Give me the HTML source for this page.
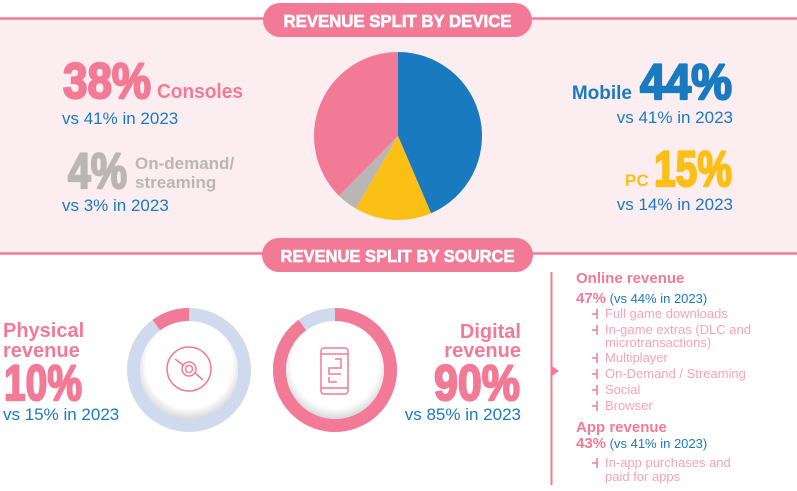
<!DOCTYPE html>
<html><head><meta charset="utf-8"><style>
html,body{margin:0;padding:0;background:#fff}
svg{display:block;font-family:"Liberation Sans",sans-serif}
.b{font-weight:bold}
.big{stroke-width:2.2;stroke-linejoin:round}
</style></head><body>
<svg id="c" width="797" height="491" viewBox="0 0 797 491">
<rect x="0" y="18" width="797" height="236" fill="#fcedf0"/>
<line x1="0" y1="18.5" x2="797" y2="18.5" stroke="#f27a97" stroke-width="2.5"/>
<line x1="0" y1="253.5" x2="797" y2="253.5" stroke="#f27a97" stroke-width="2.5"/>
<rect x="263" y="3" width="269" height="34" rx="17" fill="#f27a97"/>
<text x="397.5" y="27" text-anchor="middle" fill="#fff" stroke="#fff" stroke-width="0.6" class="b" font-size="17.5" textLength="228" lengthAdjust="spacingAndGlyphs">REVENUE SPLIT BY DEVICE</text>
<rect x="262" y="238" width="271" height="34" rx="17" fill="#f27a97"/>
<text x="397.5" y="262" text-anchor="middle" fill="#fff" stroke="#fff" stroke-width="0.6" class="b" font-size="17.5" textLength="234" lengthAdjust="spacingAndGlyphs">REVENUE SPLIT BY SOURCE</text>
<g id="pie"></g>

<text x="63" y="98" fill="#f27a97" stroke="#f27a97" class="b big" font-size="50" textLength="88" lengthAdjust="spacingAndGlyphs">38%</text>
<text x="157" y="98" fill="#f27a97" class="b" font-size="20" textLength="86" lengthAdjust="spacingAndGlyphs">Consoles</text>
<text x="62" y="124" fill="#1a7ac0" font-size="17">vs 41% in 2023</text>
<text x="68" y="188" fill="#bbb6b6" stroke="#bbb6b6" class="b big" font-size="50" textLength="59" lengthAdjust="spacingAndGlyphs">4%</text>
<text x="135" y="169" fill="#bbb6b6" class="b" font-size="17">On-demand/</text>
<text x="135" y="188" fill="#bbb6b6" class="b" font-size="17">streaming</text>
<text x="62" y="211" fill="#1a7ac0" font-size="17">vs 3% in 2023</text>

<text x="632" y="99" text-anchor="end" fill="#1a7ac0" class="b" font-size="19">Mobile</text>
<text x="732" y="99" text-anchor="end" fill="#1a7ac0" stroke="#1a7ac0" class="b big" font-size="50" textLength="92" lengthAdjust="spacingAndGlyphs">44%</text>
<text x="733" y="123" text-anchor="end" fill="#1a7ac0" font-size="17">vs 41% in 2023</text>
<text x="625" y="186" fill="#fbbf16" class="b" font-size="17">PC</text>
<text x="732" y="186" text-anchor="end" fill="#fbbf16" stroke="#fbbf16" class="b big" font-size="50" textLength="78" lengthAdjust="spacingAndGlyphs">15%</text>
<text x="733" y="210" text-anchor="end" fill="#1a7ac0" font-size="17">vs 14% in 2023</text>

<text x="3" y="337" fill="#f27a97" class="b" font-size="20">Physical</text>
<text x="3" y="357" fill="#f27a97" class="b" font-size="20">revenue</text>
<text x="4" y="400" fill="#f27a97" stroke="#f27a97" class="b big" font-size="50" textLength="78" lengthAdjust="spacingAndGlyphs">10%</text>
<text x="3" y="420" fill="#1a7ac0" font-size="17">vs 15% in 2023</text>
<text x="521" y="338" text-anchor="end" fill="#f27a97" class="b" font-size="20">Digital</text>
<text x="521" y="357" text-anchor="end" fill="#f27a97" class="b" font-size="20">revenue</text>
<text x="520" y="400" text-anchor="end" fill="#f27a97" stroke="#f27a97" class="b big" font-size="50" textLength="86" lengthAdjust="spacingAndGlyphs">90%</text>
<text x="521" y="420" text-anchor="end" fill="#1a7ac0" font-size="17">vs 85% in 2023</text>

<defs><radialGradient id="inner" cx="0.5" cy="0.45" r="0.55"><stop offset="0.8" stop-color="#fff"/><stop offset="1" stop-color="#d8d8d8"/></radialGradient></defs>
<g id="donuts"></g>
<g fill="none" stroke="#f27a97" stroke-width="1.5">
<circle cx="189" cy="369" r="22"/><circle cx="189" cy="369" r="7"/><circle cx="189" cy="369" r="3.5"/>
<line x1="175" y1="359" x2="183" y2="365"/><line x1="195" y1="373" x2="203" y2="380"/>
</g>
<g fill="none" stroke="#f27a97" stroke-width="1.5">
<rect x="321" y="348" width="27" height="46" rx="3"/><line x1="321" y1="354" x2="348" y2="354"/><line x1="321" y1="388" x2="348" y2="388"/>
<path d="M335 359h6v9h-12v6h12"/><path d="M329 377v5h8"/>
</g>

<g>
<line x1="551.5" y1="272" x2="551.5" y2="485" stroke="#f27a97" stroke-width="2"/>
<polygon points="552,366 559,371 552,376" fill="#f27a97"/>
<text x="576" y="283" fill="#f27a97" class="b" font-size="15">Online revenue</text>
<text x="576" y="303" fill="#f27a97" class="b" font-size="15">47%<tspan font-weight="normal" font-size="13" fill="#1a7ac0"> (vs 44% in 2023)</tspan></text>
<g fill="#f8a3b6" font-size="13">
<text x="605" y="318">Full game downloads</text>
<text x="605" y="334">In-game extras (DLC and</text>
<text x="605" y="347">microtransactions)</text>
<text x="605" y="362">Multiplayer</text>
<text x="605" y="378">On-Demand / Streaming</text>
<text x="605" y="394">Social</text>
<text x="605" y="410">Browser</text>
<text x="605" y="467">In-app purchases and</text>
<text x="605" y="481">paid for apps</text>
</g>
<g stroke="#f27a97" stroke-width="1.5">
<path d="M597 309v10M592 314h5"/><path d="M597 325v10M592 330h5"/><path d="M597 353v10M592 358h5"/>
<path d="M597 369v10M592 374h5"/><path d="M597 385v10M592 390h5"/><path d="M597 401v10M592 406h5"/><path d="M597 458v10M592 463h5"/>
</g>
<text x="576" y="432" fill="#f27a97" class="b" font-size="15">App revenue</text>
<text x="576" y="448" fill="#f27a97" class="b" font-size="15">43%<tspan font-weight="normal" font-size="13" fill="#1a7ac0"> (vs 41% in 2023)</tspan></text>
</g>
</svg>
<script>
const deviceCategories = ["Mobile", "PC", "On-demand/streaming", "Consoles"];
const deviceShares = [44, 15, 4, 38];
const deviceColors = ["#1a7ac0", "#fbbf16", "#bbb6b6", "#f27a97"];
const sourceCategories = ["Physical", "Digital"];
const sourceShares = [10, 90];

const NS = "http://www.w3.org/2000/svg";
function pt(cx, cy, r, a) { return [cx + r * Math.sin(a), cy - r * Math.cos(a)]; }
function arcPath(cx, cy, r, a0, a1) {
  const p0 = pt(cx, cy, r, a0), p1 = pt(cx, cy, r, a1);
  const large = (a1 - a0) > Math.PI ? 1 : 0;
  return `M${cx},${cy}L${p0[0]},${p0[1]}A${r},${r} 0 ${large} 1 ${p1[0]},${p1[1]}Z`;
}
const pie = document.getElementById("pie");
const total = deviceShares.reduce((a, b) => a + b, 0);
let ang = 0;
deviceShares.forEach((v, i) => {
  const a1 = ang + v / total * 2 * Math.PI;
  const p = document.createElementNS(NS, "path");
  p.setAttribute("d", arcPath(398, 136, 84, ang, a1));
  p.setAttribute("fill", deviceColors[i]);
  
  
  pie.appendChild(p);
  ang = a1;
});

const donuts = document.getElementById("donuts");
function donut(cx, cy, share, clockwise, name) {
  const R = 62, r = 49;
  const bg = document.createElementNS(NS, "circle");
  bg.setAttribute("cx", cx); bg.setAttribute("cy", cy); bg.setAttribute("r", (R + r) / 2);
  bg.setAttribute("fill", "none"); bg.setAttribute("stroke", "#cfdaee"); bg.setAttribute("stroke-width", R - r);
  
  
  donuts.appendChild(bg);
  const frac = share / 100;
  const a0 = clockwise ? 0 : -frac * 2 * Math.PI, a1 = clockwise ? frac * 2 * Math.PI : 0;
  const o0 = pt(cx, cy, R, a0), o1 = pt(cx, cy, R, a1), i0 = pt(cx, cy, r, a1), i1 = pt(cx, cy, r, a0);
  const large = frac > 0.5 ? 1 : 0;
  const seg = document.createElementNS(NS, "path");
  seg.setAttribute("d", `M${o0}A${R},${R} 0 ${large} 1 ${o1}L${i0}A${r},${r} 0 ${large} 0 ${i1}Z`);
  seg.setAttribute("fill", "#f27a97");
  
  
  donuts.appendChild(seg);
  const inner = document.createElementNS(NS, "circle");
  inner.setAttribute("cx", cx); inner.setAttribute("cy", cy); inner.setAttribute("r", r);
  inner.setAttribute("fill", "url(#inner)");
  
  
  donuts.appendChild(inner);
}
donut(189, 370, sourceShares[0], false, "physical-donut");
donut(335, 370, sourceShares[1], true, "digital-donut");
</script>
</body></html>
